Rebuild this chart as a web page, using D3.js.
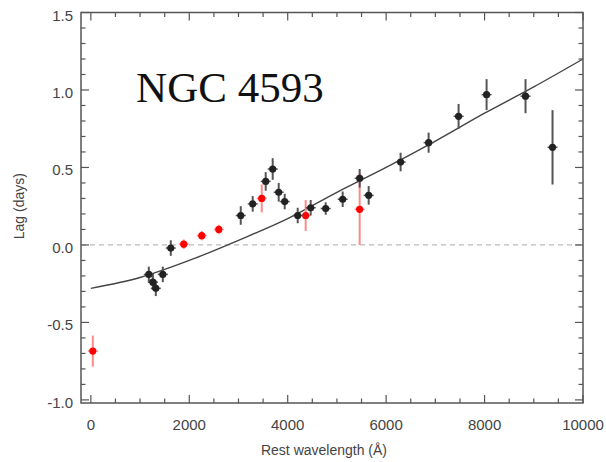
<!DOCTYPE html>
<html>
<head>
<meta charset="utf-8">
<script src="https://cdn.jsdelivr.net/npm/d3@7"></script>
<style>
  body { margin: 0; background: #fff; }
  svg { display: block; }
</style>
</head>
<body>
<svg id="chart"></svg>
<script>
// data
const blackWave = [1178, 1260, 1320, 1462, 1624, 3046, 3289, 3553, 3695, 3817, 3939, 4203, 4467, 4772, 5117, 5462, 5645, 6294, 6863, 7472, 8041, 8832, 9381];
const blackLag  = [-0.19, -0.24, -0.28, -0.19, -0.02, 0.19, 0.265, 0.41, 0.49, 0.34, 0.28, 0.19, 0.24, 0.235, 0.295, 0.43, 0.32, 0.535, 0.66, 0.83, 0.97, 0.96, 0.63];
const blackErr  = [0.05, 0.05, 0.05, 0.05, 0.05, 0.06, 0.05, 0.06, 0.07, 0.06, 0.05, 0.05, 0.05, 0.04, 0.05, 0.06, 0.06, 0.06, 0.065, 0.08, 0.1, 0.11, 0.24];

const redWave = [40, 1888, 2254, 2600, 3472, 4365, 5462];
const redLag  = [-0.685, 0.005, 0.06, 0.10, 0.30, 0.19, 0.23];
const redErr  = [0.10, 0.03, 0.03, 0.03, 0.09, 0.10, 0.23];

// model curve
const modelWave = [0, 1000, 2000, 3000, 4000, 5000, 6000, 7000, 8000, 9000, 10000];
const modelLag  = [-0.28, -0.21, -0.10, 0.03, 0.17, 0.34, 0.50, 0.67, 0.85, 1.02, 1.20];

const xTicks = [0, 2000, 4000, 6000, 8000, 10000];
const yTicks = [-1.0, -0.5, 0.0, 0.5, 1.0, 1.5];

// constants
const width = 606;
const height = 462;
const margin = { left: 81, right: 23, top: 12.5, bottom: 59 };
const innerW = width - margin.left - margin.right;
const innerH = height - margin.top - margin.bottom;

const svgRoot = d3.select('svg#chart').attr('width', width).attr('height', height);
const svg = svgRoot.append('g').attr('transform', 'translate(' + margin.left + ',' + margin.top + ')');

const x = d3.scaleLinear().domain([-200, 10000]).range([0, innerW]);
const y = d3.scaleLinear().domain([-1.02, 1.5]).range([innerH, 0]);

const axisColor = '#555';
const labelColor = '#444';
const font = 'Liberation Sans, Arial, sans-serif';

// zero line
svg.append('line')
  .attr('x1', 0).attr('x2', innerW)
  .attr('y1', y(0)).attr('y2', y(0))
  .attr('stroke', '#bbb').attr('stroke-width', 1.3)
  .attr('stroke-dasharray', '5,4');

// model curve
const model = modelWave.map((w, i) => [w, modelLag[i]]);
svg.append('path')
  .datum(model)
  .attr('fill', 'none')
  .attr('stroke', '#444')
  .attr('stroke-width', 1.4)
  .attr('d', d3.line().x(d => x(d[0])).y(d => y(d[1])).curve(d3.curveMonotoneX));

// points with error bars
function drawSeries(wave, lag, err, dotColor, barColor) {
  const pts = wave.map((w, i) => ({ w: w, l: lag[i], e: err[i] }));
  const g = svg.append('g');
  g.selectAll('line.eb')
    .data(pts)
    .join('line')
      .attr('class', 'eb')
      .attr('x1', d => x(d.w)).attr('x2', d => x(d.w))
      .attr('y1', d => y(d.l - d.e)).attr('y2', d => y(d.l + d.e))
      .attr('stroke', barColor).attr('stroke-width', 2);
  g.selectAll('line.hb')
    .data(pts)
    .join('line')
      .attr('class', 'hb')
      .attr('x1', d => x(d.w) - 5).attr('x2', d => x(d.w) + 5)
      .attr('y1', d => y(d.l)).attr('y2', d => y(d.l))
      .attr('stroke', barColor).attr('stroke-width', 1.5);
  g.selectAll('circle')
    .data(pts)
    .join('circle')
      .attr('cx', d => x(d.w)).attr('cy', d => y(d.l))
      .attr('r', 3.6)
      .attr('fill', dotColor);
}
drawSeries(redWave, redLag, redErr, '#f00', '#f88');
drawSeries(blackWave, blackLag, blackErr, '#222', '#555');

// frame
svg.append('rect')
  .attr('width', innerW).attr('height', innerH)
  .attr('fill', 'none').attr('stroke', axisColor).attr('stroke-width', 1.5);

// ticks, drawn inward on all four sides
const xMinor = d3.range(0, 10001, 500);
const yMinor = d3.range(-10, 16, 1).map(v => v / 10);
const ticks = svg.append('g').attr('stroke', axisColor).attr('stroke-width', 1.2);
xMinor.forEach(v => {
  const len = xTicks.includes(v) ? 8 : 4.5;
  ticks.append('line').attr('x1', x(v)).attr('x2', x(v)).attr('y1', innerH).attr('y2', innerH - len);
  ticks.append('line').attr('x1', x(v)).attr('x2', x(v)).attr('y1', 0).attr('y2', len);
});
yMinor.forEach(v => {
  const len = yTicks.some(t => Math.abs(t - v) < 1e-9) ? 8 : 4.5;
  ticks.append('line').attr('y1', y(v)).attr('y2', y(v)).attr('x1', 0).attr('x2', len);
  ticks.append('line').attr('y1', y(v)).attr('y2', y(v)).attr('x1', innerW).attr('x2', innerW - len);
});

// tick labels
svg.append('g').selectAll('text')
  .data(xTicks)
  .join('text')
    .attr('x', d => x(d))
    .attr('y', innerH + 27)
    .attr('text-anchor', 'middle')
    .attr('font-family', font).attr('font-size', 15)
    .attr('fill', labelColor)
    .text(d => d);

svg.append('g').selectAll('text')
  .data(yTicks)
  .join('text')
    .attr('x', -8)
    .attr('y', d => y(d) + 8)
    .attr('text-anchor', 'end')
    .attr('font-family', font).attr('font-size', 15)
    .attr('fill', labelColor)
    .text(d => d.toFixed(1));

// axis titles
svg.append('text')
  .attr('x', innerW / 2 - 8)
  .attr('y', innerH + 52)
  .attr('text-anchor', 'middle')
  .attr('font-family', font).attr('font-size', 14)
  .attr('fill', labelColor)
  .text('Rest wavelength (Å)');

svg.append('text')
  .attr('transform', 'translate(' + (-57) + ',' + (y(0.25)) + ') rotate(-90)')
  .attr('text-anchor', 'middle')
  .attr('font-family', font).attr('font-size', 14)
  .attr('fill', labelColor)
  .text('Lag (days)');

// object name
svg.append('text')
  .attr('x', x(920))
  .attr('y', y(0.92))
  .attr('font-family', 'Liberation Serif, Times New Roman, serif')
  .attr('font-size', 43)
  .attr('fill', '#111')
  .text('NGC 4593');
</script>
</body>
</html>
